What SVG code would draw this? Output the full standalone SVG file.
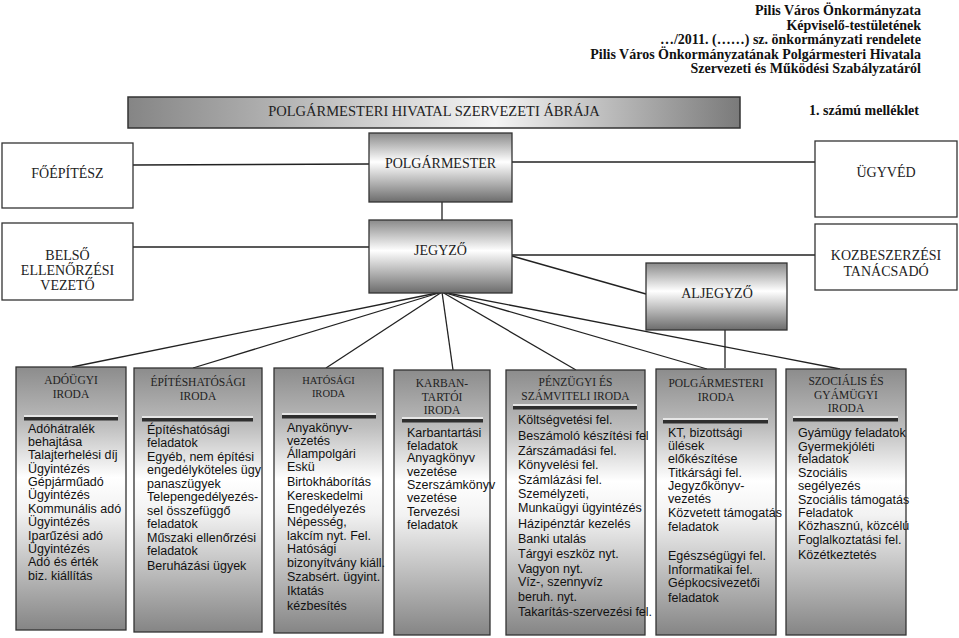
<svg xmlns="http://www.w3.org/2000/svg" width="959" height="638" viewBox="0 0 959 638">
<defs>
<linearGradient id="gTitle" x1="0" y1="0" x2="1" y2="0">
<stop offset="0" stop-color="#858585"/><stop offset="0.6" stop-color="#f4f4f4"/><stop offset="1" stop-color="#7a7a7a"/>
</linearGradient>
<linearGradient id="gHead" x1="0" y1="0" x2="0" y2="1">
<stop offset="0" stop-color="#8a8a8a"/><stop offset="0.42" stop-color="#ffffff"/><stop offset="1" stop-color="#6c6c6c"/>
</linearGradient>
<linearGradient id="gDept" x1="0" y1="0" x2="0" y2="1">
<stop offset="0" stop-color="#8c8c8c"/><stop offset="0.22" stop-color="#bdbdbd"/><stop offset="0.42" stop-color="#ffffff"/><stop offset="0.55" stop-color="#f2f2f2"/><stop offset="1" stop-color="#858585"/>
</linearGradient>
</defs>
<style>
.hdr{font-family:"Liberation Serif","Times New Roman",serif;font-weight:bold;font-size:14px;fill:#111;text-anchor:end}
.plain{fill:#fff;stroke:#333;stroke-width:1.3}
.head{fill:url(#gHead);stroke:#333;stroke-width:1.3}
.dept{fill:url(#gDept);stroke:#333;stroke-width:1.3}
.nt{font-family:"Liberation Serif","Times New Roman",serif;font-size:14px;fill:#222;text-anchor:middle}
.dt{font-family:"Liberation Serif","Times New Roman",serif;font-size:11.5px;fill:#222;text-anchor:middle}
.bt{font-family:"Liberation Sans",Arial,sans-serif;font-size:12.5px;fill:#111}
.bar{fill:#2e2e2e}
.barl{fill:#e6e6e6}
.con line{stroke:#222;stroke-width:1.3}
</style>

<g id="header">
<text class="hdr" x="921" y="15">Pilis Város Önkormányzata</text>
<text class="hdr" x="921" y="29.5">Képviselő-testületének</text>
<text class="hdr" x="921" y="44">…/2011. (……) sz. önkormányzati rendelete</text>
<text class="hdr" x="921" y="58.5">Pilis Város Önkormányzatának Polgármesteri Hivatala</text>
<text class="hdr" x="921" y="73">Szervezeti és Működési Szabályzatáról</text>
<text class="hdr" x="919" y="115">1. számú melléklet</text>
</g>

<g id="title">
<rect x="128" y="97" width="612" height="31" fill="url(#gTitle)" stroke="#333" stroke-width="1.5"/>
<text class="nt" x="434" y="116" style="font-size:14.5px">POLGÁRMESTERI HIVATAL SZERVEZETI ÁBRÁJA</text>
</g>

<g id="connectors" class="con">
<line x1="133" y1="165" x2="369" y2="164"/>
<line x1="512" y1="162" x2="815" y2="162"/>
<line x1="442" y1="202" x2="442" y2="220"/>
<line x1="133" y1="247" x2="369" y2="247"/>
<line x1="512" y1="255" x2="815" y2="255"/>
<line x1="512" y1="256" x2="646" y2="294"/>
<line x1="725" y1="330" x2="725" y2="368"/>
<line x1="442" y1="292" x2="72" y2="367"/>
<line x1="442" y1="292" x2="193" y2="368"/>
<line x1="442" y1="292" x2="326" y2="368"/>
<line x1="442" y1="292" x2="453" y2="370"/>
<line x1="442" y1="292" x2="576" y2="370"/>
<line x1="442" y1="292" x2="707" y2="369"/>
<line x1="442" y1="292" x2="840" y2="369"/>
</g>

<g id="foepitesz">
<rect class="plain" x="2" y="143" width="131" height="65"/>
<text class="nt" x="67.5" y="178">FŐÉPÍTÉSZ</text>
</g>
<g id="polgarmester">
<rect class="head" x="369" y="133" width="143" height="69"/>
<text class="nt" x="440.5" y="168">POLGÁRMESTER</text>
</g>
<g id="ugyved">
<rect class="plain" x="815" y="141" width="142" height="76"/>
<text class="nt" x="886" y="177">ÜGYVÉD</text>
</g>
<g id="belso">
<rect class="plain" x="2" y="223" width="131" height="77"/>
<text class="nt" x="67.5" y="260">BELSŐ</text>
<text class="nt" x="67.5" y="275">ELLENŐRZÉSI</text>
<text class="nt" x="67.5" y="290">VEZETŐ</text>
</g>
<g id="jegyzo">
<rect class="head" x="369" y="220" width="143" height="73"/>
<text class="nt" x="440.5" y="255">JEGYZŐ</text>
</g>
<g id="kozbeszerzesi">
<rect class="plain" x="815" y="224" width="142" height="66"/>
<text class="nt" x="886" y="260">KOZBESZERZÉSI</text>
<text class="nt" x="886" y="276">TANÁCSADÓ</text>
</g>
<g id="aljegyzo">
<rect class="head" x="646" y="263" width="141" height="67"/>
<text class="nt" x="717" y="298">ALJEGYZŐ</text>
</g>

<g id="adougyi">
<rect class="dept" x="16" y="367" width="110" height="263"/>
<text class="dt" x="71" y="384">ADÓÜGYI</text>
<text class="dt" x="71" y="398">IRODA</text>
<rect class="barl" x="24" y="415" width="94" height="2"/>
<rect class="bar" x="24" y="417" width="94" height="3.5"/>
<text class="bt">
<tspan x="28" y="432.5">Adóhátralék</tspan>
<tspan x="28" y="446">behajtása</tspan>
<tspan x="28" y="459.3">Talajterhelési díj</tspan>
<tspan x="28" y="472.7">Ügyintézés</tspan>
<tspan x="28" y="486">Gépjárműadó</tspan>
<tspan x="28" y="499.4">Ügyintézés</tspan>
<tspan x="28" y="512.8">Kommunális adó</tspan>
<tspan x="28" y="526.2">Ügyintézés</tspan>
<tspan x="28" y="539.6">Iparűzési adó</tspan>
<tspan x="28" y="553">Ügyintézés</tspan>
<tspan x="28" y="566.4">Adó és érték</tspan>
<tspan x="28" y="579.8">biz. kiállítás</tspan>
</text>
</g>

<g id="epiteshatosagi">
<rect class="dept" x="134" y="368" width="128" height="264"/>
<text class="dt" x="198" y="386">ÉPÍTÉSHATÓSÁGI</text>
<text class="dt" x="198" y="400">IRODA</text>
<rect class="barl" x="142" y="416" width="111" height="2"/>
<rect class="bar" x="142" y="418" width="111" height="3.5"/>
<text class="bt">
<tspan x="147" y="433.5">Építéshatósági</tspan>
<tspan x="147" y="447">feladatok</tspan>
<tspan x="147" y="460.5">Egyéb, nem építési</tspan>
<tspan x="147" y="474">engedélyköteles ügy</tspan>
<tspan x="147" y="487.5">panaszügyek</tspan>
<tspan x="147" y="501">Telepengedélyezés-</tspan>
<tspan x="147" y="514.5">sel összefüggő</tspan>
<tspan x="147" y="528">feladatok</tspan>
<tspan x="147" y="541.5">Műszaki ellenőrzési</tspan>
<tspan x="147" y="555">feladatok</tspan>
<tspan x="147" y="570">Beruházási ügyek</tspan>
</text>
</g>

<g id="hatosagi">
<rect class="dept" x="274" y="368" width="109" height="265"/>
<text class="dt" x="328.5" y="384" style="font-size:10.5px">HATÓSÁGI</text>
<text class="dt" x="328.5" y="397" style="font-size:10.5px">IRODA</text>
<rect class="barl" x="282" y="413" width="94" height="2"/>
<rect class="bar" x="282" y="415" width="94" height="3.5"/>
<text class="bt">
<tspan x="287" y="431.5">Anyakönyv-</tspan>
<tspan x="287" y="444.5">vezetés</tspan>
<tspan x="287" y="458">Állampolgári</tspan>
<tspan x="287" y="471.3">Eskü</tspan>
<tspan x="287" y="486.3">Birtokháborítás</tspan>
<tspan x="287" y="499.6">Kereskedelmi</tspan>
<tspan x="287" y="513">Engedélyezés</tspan>
<tspan x="287" y="526.3">Népesség,</tspan>
<tspan x="287" y="539.6">lakcím nyt. Fel.</tspan>
<tspan x="287" y="553">Hatósági</tspan>
<tspan x="287" y="566.8">bizonyítvány kiáll.</tspan>
<tspan x="287" y="581.3">Szabsért. ügyint.</tspan>
<tspan x="287" y="594.6">Iktatás</tspan>
<tspan x="287" y="609.6">kézbesítés</tspan>
</text>
</g>

<g id="karbantartoi">
<rect class="dept" x="394" y="370" width="96" height="265"/>
<text class="dt" x="442" y="387">KARBAN-</text>
<text class="dt" x="442" y="401">TARTÓI</text>
<text class="dt" x="442" y="414">IRODA</text>
<rect class="barl" x="402" y="417" width="81" height="2"/>
<rect class="bar" x="402" y="419" width="81" height="3.5"/>
<text class="bt">
<tspan x="407" y="436.5">Karbantartási</tspan>
<tspan x="407" y="449.5">feladatok</tspan>
<tspan x="407" y="462">Anyagkönyv</tspan>
<tspan x="407" y="475.5">vezetése</tspan>
<tspan x="407" y="488.5">Szerszámkönyv</tspan>
<tspan x="407" y="501.5">vezetése</tspan>
<tspan x="407" y="515.5">Tervezési</tspan>
<tspan x="407" y="528.5">feladatok</tspan>
</text>
</g>

<g id="penzugyi">
<rect class="dept" x="506" y="370" width="139" height="265"/>
<text class="dt" x="575.5" y="386">PÉNZÜGYI ÉS</text>
<text class="dt" x="575.5" y="400">SZÁMVITELI IRODA</text>
<rect class="barl" x="513" y="404" width="124" height="2"/>
<rect class="bar" x="513" y="406" width="124" height="3.5"/>
<text class="bt">
<tspan x="518" y="423.8">Költségvetési fel.</tspan>
<tspan x="518" y="439.5">Beszámoló készítési fel</tspan>
<tspan x="518" y="454.5">Zárszámadási fel.</tspan>
<tspan x="518" y="468.8">Könyvelési fel.</tspan>
<tspan x="518" y="483.8">Számlázási fel.</tspan>
<tspan x="518" y="497.8">Személyzeti,</tspan>
<tspan x="518" y="512.2">Munkaügyi ügyintézés</tspan>
<tspan x="518" y="527.8">Házipénztár kezelés</tspan>
<tspan x="518" y="543.2">Banki utalás</tspan>
<tspan x="518" y="557.8">Tárgyi eszköz nyt.</tspan>
<tspan x="518" y="572.8">Vagyon nyt.</tspan>
<tspan x="518" y="586.2">Víz-, szennyvíz</tspan>
<tspan x="518" y="600.5">beruh. nyt.</tspan>
<tspan x="518" y="616.2">Takarítás-szervezési fel.</tspan>
</text>
</g>

<g id="polgarmesteri">
<rect class="dept" x="656" y="369" width="120" height="266"/>
<text class="dt" x="716" y="387">POLGÁRMESTERI</text>
<text class="dt" x="716" y="401">IRODA</text>
<rect class="barl" x="663" y="418" width="105" height="2"/>
<rect class="bar" x="663" y="420" width="105" height="3.5"/>
<text class="bt">
<tspan x="668" y="436.5">KT, bizottsági</tspan>
<tspan x="668" y="449.5">ülések</tspan>
<tspan x="668" y="462.5">előkészítése</tspan>
<tspan x="668" y="476.5">Titkársági fel.</tspan>
<tspan x="668" y="489.5">Jegyzőkönyv-</tspan>
<tspan x="668" y="502.5">vezetés</tspan>
<tspan x="668" y="516.5">Közvetett támogatás</tspan>
<tspan x="668" y="531">feladatok</tspan>
<tspan x="668" y="560">Egészségügyi fel.</tspan>
<tspan x="668" y="573.5">Informatikai fel.</tspan>
<tspan x="668" y="587">Gépkocsivezetői</tspan>
<tspan x="668" y="602">feladatok</tspan>
</text>
</g>

<g id="szocialis">
<rect class="dept" x="786" y="369" width="120" height="266"/>
<text class="dt" x="846" y="385">SZOCIÁLIS ÉS</text>
<text class="dt" x="846" y="398.5">GYÁMÜGYI</text>
<text class="dt" x="846" y="412">IRODA</text>
<rect class="barl" x="793" y="416" width="105" height="2"/>
<rect class="bar" x="793" y="418" width="105" height="3.5"/>
<text class="bt">
<tspan x="798" y="436.5">Gyámügy feladatok</tspan>
<tspan x="798" y="450.5">Gyermekjóléti</tspan>
<tspan x="798" y="462.8">feladatok</tspan>
<tspan x="798" y="476.5">Szociális</tspan>
<tspan x="798" y="490">segélyezés</tspan>
<tspan x="798" y="503.5">Szociális támogatás</tspan>
<tspan x="798" y="516.8">Feladatok</tspan>
<tspan x="798" y="530.2">Közhasznú, közcélú</tspan>
<tspan x="798" y="543.5">Foglalkoztatási fel.</tspan>
<tspan x="798" y="558.5">Közétkeztetés</tspan>
</text>
</g>
</svg>
